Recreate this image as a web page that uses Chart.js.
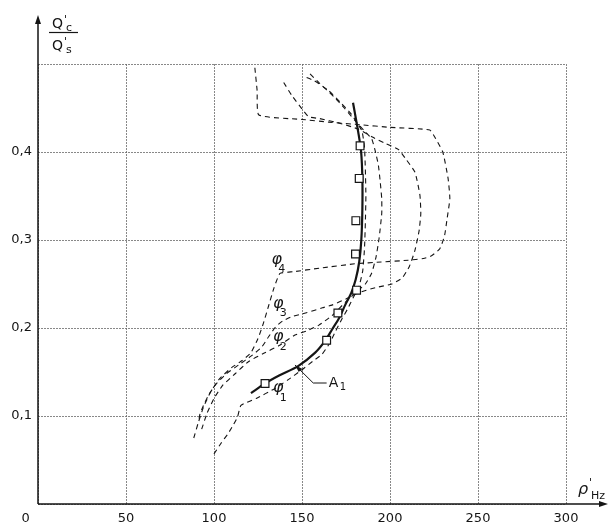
<!DOCTYPE html>
<html>
<head>
<meta charset="utf-8">
<script src="https://cdn.jsdelivr.net/npm/chart.js@4.4.1/dist/chart.umd.min.js"></script>
<style>
  body { margin: 0; background: #fff; }
  canvas { display: block; }
</style>
</head>
<body>
<canvas id="chart" width="610" height="526"></canvas>
<script>
// axis ticks
const xTicks = [0, 50, 100, 150, 200, 250, 300];
const yTicks = [0.1, 0.2, 0.3, 0.4];

// measured curve A1 (solid) and its test points
const curveA1 = [
  [121, 0.126], [129, 0.137], [137, 0.146], [148, 0.157], [157.5, 0.172],
  [163, 0.185], [167, 0.198], [171, 0.211], [174.5, 0.226], [178, 0.24],
  [180.5, 0.255], [182.5, 0.275], [183.7, 0.3], [184.3, 0.335],
  [184.3, 0.37], [183.6, 0.4], [182, 0.422], [179, 0.456],
];
const pointsA1 = [
  [129, 0.137], [164, 0.186], [170.4, 0.217], [181, 0.243],
  [180.4, 0.284], [180.6, 0.322], [182.5, 0.37], [183, 0.407],
];

// dashed curves phi1..phi4
const phi1 = [
  [100, 0.057], [104, 0.069], [108, 0.08], [111, 0.09], [113.4, 0.099],
  [115.3, 0.112], [124, 0.12], [134.4, 0.131], [142, 0.141], [149.6, 0.152],
  [156, 0.162], [161.3, 0.17], [165.5, 0.182], [169, 0.196], [172.6, 0.21],
  [176, 0.222], [179, 0.234], [182.5, 0.248], [184.5, 0.265], [185.5, 0.29],
  [186, 0.32], [186.3, 0.35], [186, 0.38], [185.5, 0.405], [184, 0.424],
  [178, 0.443], [172, 0.456], [165, 0.47], [157, 0.481], [151, 0.486],
];
const phi2 = [
  [93, 0.085], [96, 0.103], [100, 0.12], [105, 0.135], [112, 0.148],
  [119.7, 0.162], [128, 0.171], [137, 0.18], [146, 0.192], [153, 0.197],
  [159.4, 0.203], [167, 0.214], [174.5, 0.229], [181, 0.241], [186, 0.25],
  [189.5, 0.262], [192, 0.28], [193.8, 0.302], [195.3, 0.33], [195.3, 0.347],
  [194.5, 0.365], [193.4, 0.385], [191.5, 0.402], [189.6, 0.415],
  [185, 0.425], [180, 0.436], [174, 0.45], [168, 0.463], [160, 0.478],
  [154, 0.49],
];
const phi3 = [
  [91.5, 0.097], [92, 0.102], [94, 0.112], [97, 0.124], [101, 0.136],
  [107, 0.148], [114, 0.158], [121, 0.168], [127, 0.178], [131, 0.19],
  [134.9, 0.201], [139, 0.208], [144.5, 0.213], [152, 0.217], [161.6, 0.223],
  [167, 0.226], [175, 0.233], [182, 0.24], [192, 0.246], [201, 0.25],
  [207, 0.257], [211, 0.27], [214, 0.287], [216.5, 0.31], [217.5, 0.33],
  [217, 0.351], [214.2, 0.377], [209, 0.392], [204.7, 0.403], [197, 0.41],
  [190, 0.417], [182, 0.426], [171, 0.433], [160, 0.438], [153.8, 0.44],
  [150, 0.449], [144.3, 0.464], [139.6, 0.479],
];
const phi4 = [
  [88.5, 0.075], [91, 0.092], [94, 0.11], [98, 0.127], [103, 0.142],
  [110, 0.155], [116, 0.163], [121, 0.172], [125, 0.188], [128, 0.205],
  [131, 0.225], [134, 0.245], [137.5, 0.262], [145.3, 0.264], [160, 0.268],
  [180.2, 0.273], [195, 0.275], [210.4, 0.277], [219, 0.279], [223.6, 0.282],
  [228.3, 0.29], [231, 0.305], [232.5, 0.325], [234, 0.347], [233, 0.37],
  [230, 0.4], [226, 0.415], [222.6, 0.425], [200, 0.428], [183, 0.431],
  [165, 0.434], [150, 0.437], [125.5, 0.442], [124.5, 0.47], [123.2, 0.496],
];

// curve labels, anchored in data units
const phiLabels = [
  { sub: "1", x: 136.5, y: 0.132 },
  { sub: "2", x: 136.5, y: 0.19 },
  { sub: "3", x: 136.5, y: 0.228 },
  { sub: "4", x: 135.6, y: 0.278 },
];
const leaderA1 = [[146, 0.158], [156.4, 0.1375], [164, 0.1375]];

const toXY = (arr) => arr.map(([x, y]) => ({ x, y }));
const ink = "#151515";

const dashed = (data) => ({
  data: toXY(data),
  borderColor: ink,
  borderWidth: 1.1,
  borderDash: [5, 4],
  pointRadius: 0,
  tension: 0.15,
  fill: false,
  order: 2,
});

const annotations = {
  id: "annotations",
  afterDraw(chart) {
    const { ctx, chartArea } = chart;
    const xs = chart.scales.x;
    const ys = chart.scales.y;
    const px = (v) => xs.getPixelForValue(v);
    const py = (v) => ys.getPixelForValue(v);
    const x0 = px(0);
    const y0 = py(0);

    ctx.save();
    ctx.fillStyle = ink;
    ctx.strokeStyle = ink;

    // axes with arrows
    ctx.lineWidth = 1.5;
    ctx.beginPath();
    ctx.moveTo(x0, y0);
    ctx.lineTo(chartArea.right + 38, y0);
    ctx.moveTo(x0, y0);
    ctx.lineTo(x0, 20);
    ctx.stroke();
    ctx.beginPath();
    ctx.moveTo(chartArea.right + 42, y0);
    ctx.lineTo(chartArea.right + 33, y0 - 3);
    ctx.lineTo(chartArea.right + 33, y0 + 3);
    ctx.closePath();
    ctx.moveTo(x0, 15);
    ctx.lineTo(x0 - 3, 24);
    ctx.lineTo(x0 + 3, 24);
    ctx.closePath();
    ctx.fill();

    // y axis title: Q'c / Q's
    ctx.textBaseline = "alphabetic";
    ctx.textAlign = "left";
    ctx.font = "14px 'DejaVu Sans'";
    ctx.fillText("Q", 52, 28);
    ctx.fillText("Q", 52, 50);
    ctx.font = "11px 'DejaVu Sans'";
    ctx.fillText("'", 64, 23);
    ctx.fillText("'", 64, 45);
    ctx.fillText("c", 66, 31);
    ctx.fillText("s", 66, 53);
    ctx.lineWidth = 1.2;
    ctx.beginPath();
    ctx.moveTo(49, 32.5);
    ctx.lineTo(78, 32.5);
    ctx.stroke();

    // x axis title: rho'Hz
    ctx.font = "italic 16px 'DejaVu Sans'";
    ctx.fillText("ρ", 578, 494);
    ctx.font = "11px 'DejaVu Sans'";
    ctx.fillText("'", 589, 486);
    ctx.fillText("Hz", 591, 499);

    // phi labels
    phiLabels.forEach((l) => {
      const lx = px(l.x);
      const ly = py(l.y);
      ctx.textAlign = "center";
      ctx.textBaseline = "middle";
      ctx.font = "italic 16px 'DejaVu Sans'";
      ctx.fillText("φ", lx, ly);
      ctx.font = "11px 'DejaVu Sans'";
      ctx.fillText(l.sub, lx + 5, ly + 10);
    });

    // A1 label with leader arrow
    ctx.lineWidth = 1;
    ctx.beginPath();
    leaderA1.forEach(([x, y], i) => {
      if (i === 0) ctx.moveTo(px(x), py(y));
      else ctx.lineTo(px(x), py(y));
    });
    ctx.stroke();
    const tx = px(leaderA1[0][0]);
    const ty = py(leaderA1[0][1]);
    const ang = Math.atan2(py(leaderA1[1][1]) - ty, px(leaderA1[1][0]) - tx);
    ctx.beginPath();
    ctx.moveTo(tx, ty);
    ctx.lineTo(tx + 8 * Math.cos(ang - 0.3), ty + 8 * Math.sin(ang - 0.3));
    ctx.lineTo(tx + 8 * Math.cos(ang + 0.3), ty + 8 * Math.sin(ang + 0.3));
    ctx.closePath();
    ctx.fill();
    ctx.textAlign = "left";
    ctx.textBaseline = "middle";
    ctx.font = "14px 'DejaVu Sans'";
    ctx.fillText("A", px(164) + 2, py(0.1375));
    ctx.font = "10px 'DejaVu Sans'";
    ctx.fillText("1", px(164) + 13, py(0.1375) + 4);

    ctx.restore();
  },
};

new Chart(document.getElementById("chart"), {
  type: "line",
  data: {
    datasets: [
      {
        data: toXY(pointsA1),
        showLine: false,
        pointStyle: "rect",
        pointRadius: 5.5,
        pointBackgroundColor: "#fff",
        pointBorderColor: ink,
        pointBorderWidth: 1.2,
        order: 0,
      },
      {
        data: toXY(curveA1),
        borderColor: ink,
        borderWidth: 2.2,
        pointRadius: 0,
        tension: 0.3,
        fill: false,
        order: 1,
      },
      dashed(phi1),
      dashed(phi2),
      dashed(phi3),
      dashed(phi4),
    ],
  },
  options: {
    responsive: false,
    animation: false,
    layout: { padding: { top: 64, right: 44, left: 0, bottom: 0 } },
    plugins: {
      legend: { display: false },
      tooltip: { enabled: false },
    },
    scales: {
      x: {
        type: "linear",
        min: 0,
        max: 300,
        afterBuildTicks: (s) => {
          s.ticks = xTicks.map((v) => ({ value: v }));
        },
        afterFit: (s) => {
          s.height = 22;
        },
        ticks: {
          autoSkip: false,
          maxRotation: 0,
          padding: 7,
          color: ink,
          font: { family: "DejaVu Sans", size: 13 },
          callback: (v) => (v === 0 ? "0      " : String(v)),
        },
        grid: { color: "#6a6a6a", lineWidth: 0.8, drawTicks: false },
        border: { display: false, dash: [2, 1] },
      },
      y: {
        type: "linear",
        min: 0,
        max: 0.5,
        afterBuildTicks: (s) => {
          s.ticks = [0, ...yTicks, 0.5].map((v) => ({ value: v }));
        },
        afterFit: (s) => {
          s.width = 38;
        },
        ticks: {
          padding: 6,
          color: ink,
          font: { family: "DejaVu Sans", size: 13 },
          callback: (v) =>
            yTicks.includes(v) ? v.toFixed(1).replace(".", ",") : "",
        },
        grid: { color: "#6a6a6a", lineWidth: 0.8, drawTicks: false },
        border: { display: false, dash: [2, 1] },
      },
    },
  },
  plugins: [annotations],
});
</script>
</body>
</html>
